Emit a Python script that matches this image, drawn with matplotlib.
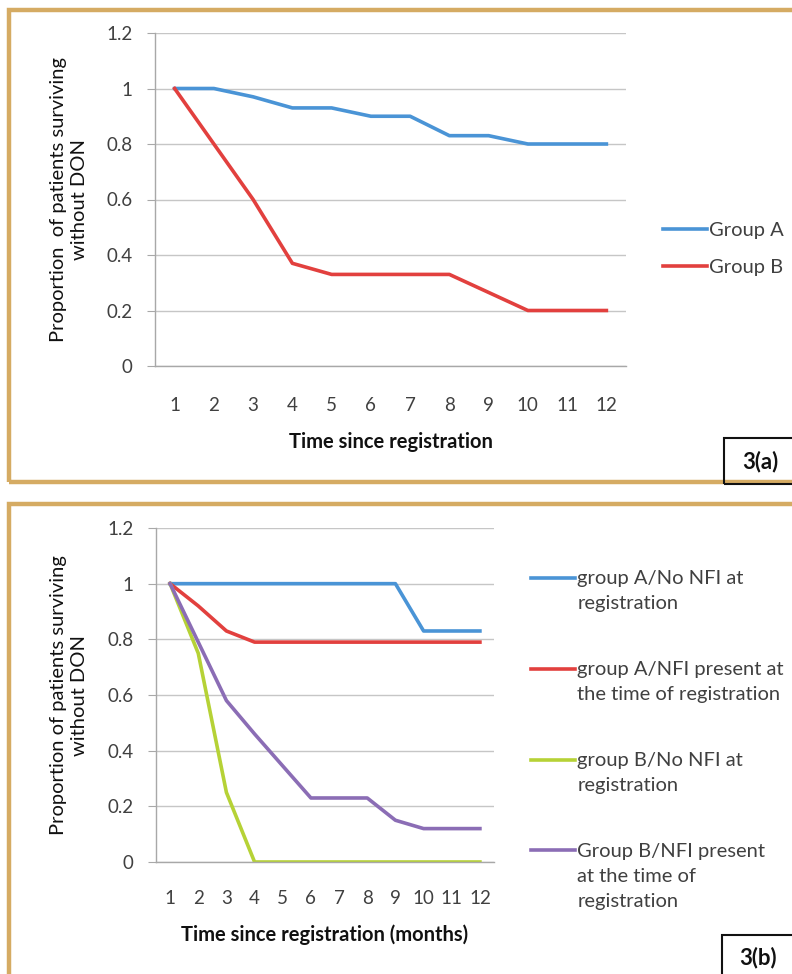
import numpy as np
import matplotlib
matplotlib.use("Agg")
import matplotlib.pyplot as plt
from matplotlib.patches import Rectangle
from matplotlib.legend_handler import HandlerLine2D

plt.rcParams['font.family'] = ['Lato', 'DejaVu Sans']

# ---------------- data ----------------
months = list(range(1, 13))
month_labels = [str(m) for m in months]
y_ticks = [0, 0.2, 0.4, 0.6, 0.8, 1.0, 1.2]
y_tick_labels = ["0", "0.2", "0.4", "0.6", "0.8", "1", "1.2"]

group_a = [1.0, 1.0, 0.97, 0.93, 0.93, 0.90, 0.90, 0.83, 0.83, 0.80, 0.80, 0.80]
group_b = [1.0, 0.80, 0.60, 0.37, 0.33, 0.33, 0.33, 0.33, 0.265, 0.20, 0.20, 0.20]

a_no_nfi = [1.0, 1.0, 1.0, 1.0, 1.0, 1.0, 1.0, 1.0, 1.0, 0.83, 0.83, 0.83]
a_nfi = [1.0, 0.92, 0.83, 0.79, 0.79, 0.79, 0.79, 0.79, 0.79, 0.79, 0.79, 0.79]
b_no_nfi = [1.0, 0.75, 0.25, 0.0, 0.0, 0.0, 0.0, 0.0, 0.0, 0.0, 0.0, 0.0]
b_nfi = [1.0, 0.79, 0.58, 0.46, 0.345, 0.23, 0.23, 0.23, 0.15, 0.12, 0.12, 0.12]

labels_a = ["Group A", "Group B"]
labels_b = ["group A/No NFI at\nregistration",
            "group A/NFI present at\nthe time of registration",
            "group B/No NFI at\nregistration",
            "Group B/NFI present\nat the time of\nregistration"]

BLUE = "#4A94D6"
RED = "#E2403E"
GREEN = "#B6D236"
PURPLE = "#8B6DB5"
FRAME = "#D5AB63"
GRID = "#C6C6C6"
TICKC = "#404040"

W, H = 792, 974
fig = plt.figure(figsize=(W / 100, H / 100), dpi=100)


def fx(px):
    return px / W


def fy(py):
    return 1 - py / H


LEG_FS = 14.5
LINESP = 1.55
LINE_PT = 26.5 * 72 / 100  # line pitch in points


class TopAligned(HandlerLine2D):
    def __init__(self, nlines, **kw):
        super().__init__(**kw)
        self.nlines = nlines

    def create_artists(self, legend, orig_handle, xdescent, ydescent,
                       width, height, fontsize, trans):
        arts = super().create_artists(legend, orig_handle, xdescent, ydescent,
                                      width, height, fontsize, trans)
        shift = (self.nlines - 1) * LINE_PT / 2
        for a in arts:
            a.set_ydata(np.asarray(a.get_ydata()) + shift)
        return arts


def style_axes(ax, xtick_pad):
    ax.set_xlim(0.5, 12.5)
    ax.set_ylim(0, 1.2)
    ax.set_yticks(y_ticks)
    ax.set_yticklabels(y_tick_labels)
    ax.set_xticks(months)
    ax.set_xticklabels(month_labels)
    for s in ["top", "right"]:
        ax.spines[s].set_visible(False)
    ax.spines["left"].set_color("#A8A8A8")
    ax.spines["bottom"].set_color("#A8A8A8")
    ax.spines["left"].set_linewidth(1.0)
    ax.spines["bottom"].set_linewidth(1.0)
    ax.grid(axis="y", color=GRID, linewidth=1.0)
    ax.set_axisbelow(True)
    ax.tick_params(axis="y", direction="out", length=6, color="#A8A8A8",
                   labelsize=13.5, labelcolor=TICKC, pad=10)
    ax.tick_params(axis="x", length=0, labelsize=13.5, labelcolor=TICKC,
                   pad=xtick_pad)


# frames
fig.patches.append(Rectangle((fx(9), fy(482)), fx(800) - fx(9), fy(10) - fy(482),
                             transform=fig.transFigure, fill=False,
                             edgecolor=FRAME, linewidth=3.2))
fig.patches.append(Rectangle((fx(9), fy(990)), fx(800) - fx(9), fy(504) - fy(990),
                             transform=fig.transFigure, fill=False,
                             edgecolor=FRAME, linewidth=3.2))

# ---------------- panel (a) ----------------
ax1_l, ax1_r = 155, 626
ax1 = fig.add_axes([fx(ax1_l), fy(366), fx(ax1_r) - fx(ax1_l), fy(33) - fy(366)])
style_axes(ax1, 22)
la, = ax1.plot(months, group_a, color=BLUE, linewidth=2.6, label=labels_a[0])
lb, = ax1.plot(months, group_b, color=RED, linewidth=2.6, label=labels_a[1])
ax1.set_ylabel("Proportion  of patients surviving\nwithout DON", fontsize=14.5,
               color="#111111", linespacing=1.3)
ax1.yaxis.set_label_coords((88 - ax1_l) / (ax1_r - ax1_l), 0.5)
ax1.set_xlabel("Time since registration", fontsize=14.5, fontweight="bold",
               color="#111111", labelpad=13)
fig.legend(handles=[la, lb], loc="upper left",
           bbox_to_anchor=(fx(645), fy(204)), frameon=False, fontsize=LEG_FS,
           handlelength=2.2, handletextpad=0.1, labelspacing=1.0,
           labelcolor="#404040")

fig.patches.append(Rectangle((fx(724), fy(484)), fx(800) - fx(724), fy(438) - fy(484),
                             transform=fig.transFigure, fill=False,
                             edgecolor="#111111", linewidth=1.5))
fig.text(fx(760), fy(462), "3(a)", fontsize=16, fontweight="bold",
         ha="center", va="center", color="#111111")

# ---------------- panel (b) ----------------
ax2_l, ax2_r = 156, 494
ax2 = fig.add_axes([fx(ax2_l), fy(862), fx(ax2_r) - fx(ax2_l), fy(528) - fy(862)])
style_axes(ax2, 20)
h1, = ax2.plot(months, a_no_nfi, color=BLUE, linewidth=2.6)
h2, = ax2.plot(months, a_nfi, color=RED, linewidth=2.6)
h3, = ax2.plot(months, b_no_nfi, color=GREEN, linewidth=2.6)
h4, = ax2.plot(months, b_nfi, color=PURPLE, linewidth=2.6)
ax2.set_ylabel("Proportion of patients surviving\nwithout DON", fontsize=14.5,
               color="#111111", linespacing=1.3)
ax2.yaxis.set_label_coords((88 - ax2_l) / (ax2_r - ax2_l), 0.5)
ax2.set_xlabel("Time since registration (months)", fontsize=14.5, fontweight="bold",
               color="#111111", labelpad=13)
handles = [h1, h2, h3, h4]
hmap = {h: TopAligned(lbl.count("\n") + 1) for h, lbl in zip(handles, labels_b)}
leg = fig.legend(handles=handles, labels=labels_b, loc="upper left",
                 bbox_to_anchor=(fx(513), fy(552)), frameon=False, fontsize=LEG_FS,
                 handlelength=2.2, handletextpad=0.1, labelspacing=2.45,
                 labelcolor="#404040", handler_map=hmap)
for t in leg.get_texts():
    t.set_linespacing(LINESP)

fig.patches.append(Rectangle((fx(722), fy(990)), fx(800) - fx(722), fy(935) - fy(990),
                             transform=fig.transFigure, fill=False,
                             edgecolor="#111111", linewidth=1.5))
fig.text(fx(758), fy(958), "3(b)", fontsize=16, fontweight="bold",
         ha="center", va="center", color="#111111")

fig.savefig("out.png", dpi=100)
